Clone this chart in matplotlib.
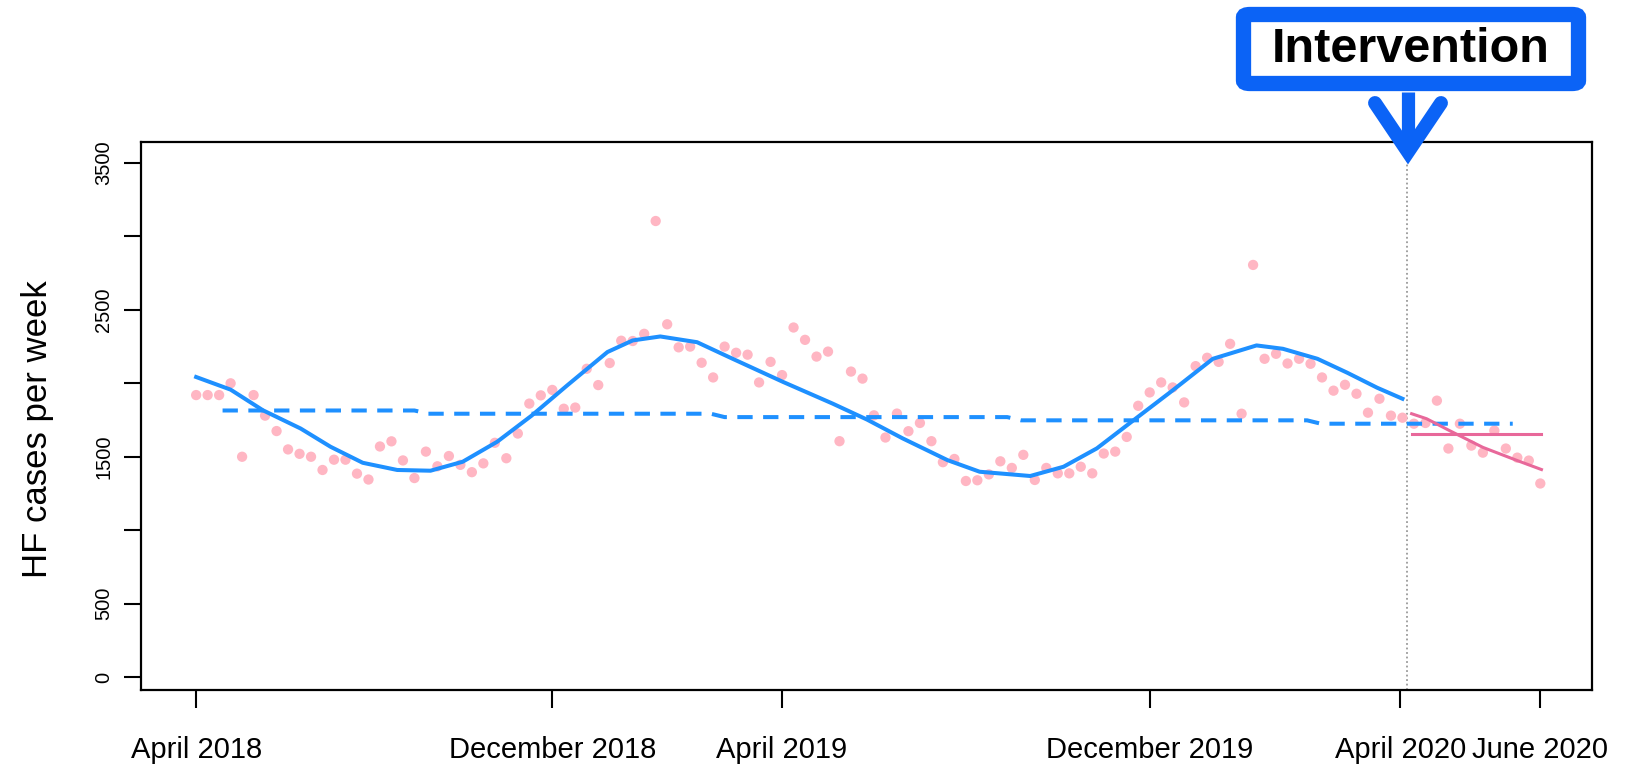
import matplotlib

matplotlib.use("Agg")
import matplotlib.pyplot as plt
from matplotlib import font_manager
from matplotlib.lines import Line2D
from matplotlib.patches import FancyBboxPatch

W, H = 1642, 768

# weekly HF cases, week 0 = April 2018
weekly_cases = [
    1920, 1920, 1920, 2000, 1500, 1920, 1780, 1675, 1550, 1520,
    1500, 1410, 1480, 1480, 1385, 1345, 1570, 1605, 1475, 1355,
    1535, 1435, 1505, 1445, 1395, 1455, 1595, 1490, 1658, 1862,
    1918, 1955, 1827, 1835, 2099, 1988, 2138, 2290, 2288, 2337,
    3105, 2402, 2245, 2250, 2140, 2040, 2250, 2208, 2195, 2006,
    2146, 2056, 2380, 2296, 2182, 2216, 1606, 2080, 2032, 1782,
    1631, 1794, 1674, 1730, 1606, 1463, 1485, 1335, 1340, 1380,
    1469, 1424, 1513, 1342, 1424, 1387, 1387, 1432, 1387, 1522,
    1535, 1635, 1847, 1938, 2006, 1972, 1870, 2117, 2174, 2146,
    2269, 1793, 2806, 2167, 2201, 2135, 2167, 2133, 2040, 1950,
    1990, 1929, 1800, 1895, 1780, 1766,
    # after intervention
    1725, 1730, 1882, 1556, 1725, 1576, 1528, 1678, 1556, 1494,
    1474, 1318,
]
intervention_week = 105.4

# seasonal model fitted before the intervention
fit_weeks = [
    0, 3.0, 5.8, 9.1, 11.7, 14.5, 17.5, 20.4, 23.2, 26.2, 29.2, 32.3,
    35.8, 38.0, 40.4, 43.6, 46.7, 51.1, 55.4, 58.4, 61.5, 65.4, 68.2,
    72.6, 75.5, 78.4, 81.6, 85.0, 88.5, 92.3, 94.6, 97.6, 100.2, 102.8,
    105.0,
]
fit_cases = [
    2043, 1957, 1817, 1692, 1568, 1459, 1410, 1405, 1466, 1602, 1780,
    1986, 2213, 2292, 2319, 2280, 2167, 2009, 1862, 1753, 1625, 1477,
    1398, 1369, 1432, 1557, 1749, 1952, 2167, 2258, 2235, 2167, 2072,
    1970, 1895,
]

# underlying trend (dashed)
trend_weeks = [2.3, 19.0, 20.2, 44.8, 46.0, 70.6, 71.8, 96.7, 97.9, 114.6]
trend_cases = [1815, 1815, 1793, 1793, 1770, 1770, 1748, 1748, 1725, 1725]

# post-intervention fits
post_level_weeks = [105.8, 117.1]
post_level_cases = [1657, 1657]
post_fit_weeks = [105.8, 107.1, 109.1, 112.0, 115.0, 117.1]
post_fit_cases = [1793, 1759, 1678, 1564, 1474, 1413]

tick_weeks = [0, 31, 51, 83, 104.8, 117]
tick_labels = [
    "April 2018", "December 2018", "April 2019",
    "December 2019", "April 2020", "June 2020",
]
y_ticks = [0, 500, 1000, 1500, 2000, 2500, 3000, 3500]
y_tick_labels = ["0", "500", "", "1500", "", "2500", "", "3500"]

BLUE = "#1E90FF"
PINK = "#E8689A"
DOT = "#FFB6C3"
BOX_BLUE = "#0B63F6"


def fig_xy(px, py):
    return px / W, 1 - py / H


def main() -> None:
    plt.rcParams["font.family"] = ["Liberation Sans", "DejaVu Sans"]
    installed = {f.name for f in font_manager.fontManager.ttflist}
    if "Liberation Sans Narrow" in installed:
        tick_font, xsize, ysize = "Liberation Sans Narrow", 24, 16
    else:
        tick_font, xsize, ysize = "Liberation Sans", 21, 14.5

    fig = plt.figure(figsize=(W / 100, H / 100), dpi=100)
    ax = fig.add_axes([141 / W, 1 - 690 / H, (1592 - 141) / W, (690 - 142) / H])

    weeks = list(range(len(weekly_cases)))
    ax.scatter(weeks, weekly_cases, s=55, color=DOT, edgecolors="none", zorder=2)
    ax.plot(fit_weeks, fit_cases, color=BLUE, lw=2.9, zorder=3,
            solid_joinstyle="round")
    ax.plot(trend_weeks, trend_cases, color=BLUE, lw=2.9, ls=(0, (3.8, 2.6)), zorder=3)
    ax.plot(post_level_weeks, post_level_cases, color=PINK, lw=2.2, zorder=3)
    ax.plot(post_fit_weeks, post_fit_cases, color=PINK, lw=2.2, zorder=3)
    ax.axvline(intervention_week, color="#9a9a9a", lw=1.3, ls=(0, (1, 1.5)), zorder=1)

    ax.set_xlim(-4.8, 121.5)
    ax.set_ylim(-88, 3643)
    ax.set_xticks(tick_weeks)
    ax.set_xticklabels(tick_labels, fontsize=xsize, family=tick_font)
    ax.set_yticks(y_ticks)
    ax.set_yticklabels(y_tick_labels, fontsize=ysize, family=tick_font,
                       rotation=90, va="center")
    ax.tick_params(axis="x", length=13, width=1.5, pad=20)
    ax.tick_params(axis="y", length=12, width=1.5, pad=8)
    for spine in ax.spines.values():
        spine.set_linewidth(1.6)

    fig.text(*fig_xy(38, 429), "HF cases per week", rotation=90,
             ha="center", va="center", fontsize=25)

    # intervention callout
    x0, y0 = fig_xy(1243.5, 83.5)
    x1, y1 = fig_xy(1578.5, 14.5)
    box = FancyBboxPatch((x0, y0), x1 - x0, y1 - y0, transform=fig.transFigure,
                         boxstyle="round,pad=0,rounding_size=0.004",
                         facecolor="white", edgecolor=BOX_BLUE, lw=11, zorder=5)
    fig.patches.append(box)
    fig.text(*fig_xy(1411, 50), "Intervention", ha="center", va="center",
             fontsize=35, fontweight="bold", zorder=6)

    sx, sy0 = fig_xy(1408, 92)
    _, sy1 = fig_xy(1408, 150)
    fig.add_artist(Line2D([sx, sx], [sy0, sy1], transform=fig.transFigure,
                          color=BOX_BLUE, lw=9.5, solid_capstyle="butt", zorder=6))
    ax_, ay_ = fig_xy(1375, 103)
    tx, ty = fig_xy(1408, 152)
    bx_, by_ = fig_xy(1441, 103)
    fig.add_artist(Line2D([ax_, tx, bx_], [ay_, ty, by_], transform=fig.transFigure,
                          color=BOX_BLUE, lw=10, solid_capstyle="round",
                          solid_joinstyle="miter", zorder=6))

    fig.savefig("out.png", dpi=100)


if __name__ == "__main__":
    main()
